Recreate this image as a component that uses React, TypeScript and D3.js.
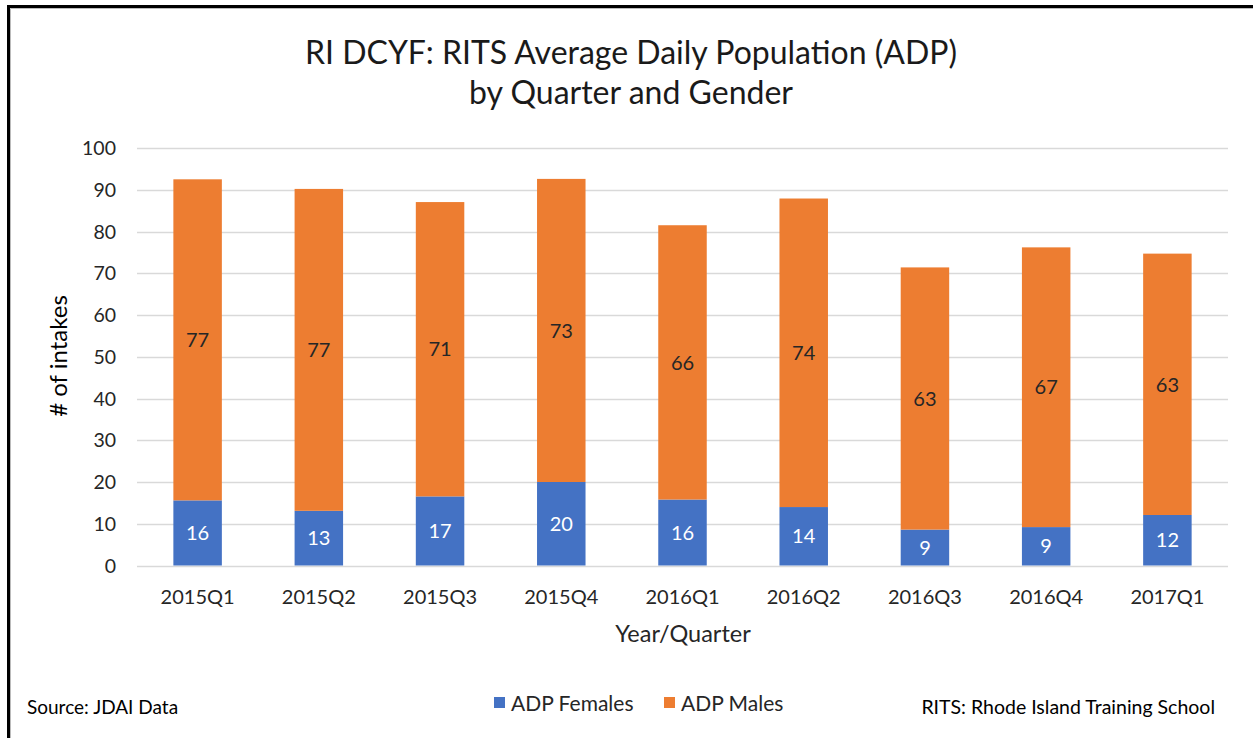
import { useRef, useEffect } from 'react'
import * as d3 from 'd3'

const quarters = ['2015Q1', '2015Q2', '2015Q3', '2015Q4', '2016Q1', '2016Q2', '2016Q3', '2016Q4', '2017Q1']
const females = [15.6, 13.1, 16.55, 20.0, 15.8, 14.0, 8.6, 9.2, 12.1]
const males = [76.9, 77.1, 70.5, 72.6, 65.7, 73.9, 62.8, 67.0, 62.6]
const yTicks = [0, 10, 20, 30, 40, 50, 60, 70, 80, 90, 100]
const seriesNames = ['ADP Females', 'ADP Males']
const seriesColors = ['#4472C4', '#ED7D31']

const FONT = 'Lato, "Open Sans", sans-serif'

const App: React.FC = () => {
  const chartRef = useRef<SVGSVGElement>(null)

  useEffect(() => {
    if (!chartRef.current) return

    const width = 1253
    const height = 738
    const left = 137
    const right = 1228
    const top = 148
    const bottom = 565.5

    const svg = d3.select(chartRef.current)
    svg.selectAll('*').remove()
    svg.attr('width', width).attr('height', height)

    svg.append('rect').attr('width', width).attr('height', height).attr('fill', '#fff')

    // frame (only top and left edges show in the crop)
    svg.append('path')
      .attr('d', `M8.5,738 L8.5,6.5 L1253,6.5`)
      .attr('fill', 'none')
      .attr('stroke', '#000')
      .attr('stroke-width', 3)
    svg.append('path')
      .attr('d', `M10.5,738 L10.5,8.5 L1253,8.5`)
      .attr('fill', 'none')
      .attr('stroke', '#bbb')
      .attr('stroke-width', 1)

    const x = d3.scaleBand<string>().domain(quarters).range([left, right]).padding(0)
    const y = d3.scaleLinear().domain([0, 100]).range([bottom, top])
    const barW = x.bandwidth() * 0.4

    // gridlines
    svg.append('g')
      .selectAll('line')
      .data(yTicks)
      .enter()
      .append('line')
      .attr('x1', left)
      .attr('x2', right)
      .attr('y1', (d) => Math.round(y(d)) + 0.5)
      .attr('y2', (d) => Math.round(y(d)) + 0.5)
      .attr('stroke', '#d9d9d9')
      .attr('stroke-width', 1.5)

    // y tick labels
    svg.append('g')
      .selectAll('text')
      .data(yTicks)
      .enter()
      .append('text')
      .attr('x', 116)
      .attr('y', (d) => y(d))
      .attr('dy', '0.36em')
      .attr('text-anchor', 'end')
      .attr('font-family', FONT)
      .attr('font-size', 19.5)
      .attr('fill', '#262626')
      .text((d) => d)

    // stacked bars
    const rows = quarters.map((q, i) => ({ q, f: females[i], m: males[i] }))
    const stack = d3.stack<{ q: string; f: number; m: number }>().keys(['f', 'm'])
    const layers = stack(rows)

    layers.forEach((layer, li) => {
      const g = svg.append('g')
      g.selectAll('rect')
        .data(layer)
        .enter()
        .append('rect')
        .attr('x', (d) => (x(d.data.q) as number) + (x.bandwidth() - barW) / 2)
        .attr('width', barW)
        .attr('y', (d) => y(d[1]))
        .attr('height', (d) => y(d[0]) - y(d[1]))
        .attr('fill', seriesColors[li])
      g.selectAll('text')
        .data(layer)
        .enter()
        .append('text')
        .attr('x', (d) => (x(d.data.q) as number) + x.bandwidth() / 2)
        .attr('y', (d) => (y(d[0]) + y(d[1])) / 2)
        .attr('dy', '0.36em')
        .attr('text-anchor', 'middle')
        .attr('font-family', FONT)
        .attr('font-size', 20)
        .attr('fill', li === 0 ? '#fff' : '#262626')
        .text((d) => Math.round(d[1] - d[0]))
    })

    // x labels
    svg.append('g')
      .selectAll('text')
      .data(quarters)
      .enter()
      .append('text')
      .attr('x', (d) => (x(d) as number) + x.bandwidth() / 2)
      .attr('y', 597)
      .attr('dy', '0.36em')
      .attr('text-anchor', 'middle')
      .attr('font-family', FONT)
      .attr('font-size', 20)
      .attr('fill', '#262626')
      .text((d) => d)

    // axis titles
    svg.append('text')
      .attr('x', 683)
      .attr('y', 634)
      .attr('dy', '0.36em')
      .attr('text-anchor', 'middle')
      .attr('font-family', FONT)
      .attr('font-size', 23.5)
      .attr('fill', '#262626')
      .text('Year/Quarter')
    svg.append('text')
      .attr('transform', `translate(58,356) rotate(-90)`)
      .attr('dy', '0.36em')
      .attr('text-anchor', 'middle')
      .attr('font-family', FONT)
      .attr('font-size', 24)
      .attr('fill', '#000')
      .text('# of intakes')

    // title
    const title = svg.append('text')
      .attr('text-anchor', 'middle')
      .attr('font-family', FONT)
      .attr('font-size', 32)
      .attr('fill', '#1a1a1a')
    title.append('tspan').attr('x', 631).attr('y', 64).text('RI DCYF: RITS Average Daily Population (ADP)')
    title.append('tspan').attr('x', 631).attr('y', 104).text('by Quarter and Gender')

    // legend
    const legendItems = [
      { name: seriesNames[0], color: seriesColors[0], x: 494 },
      { name: seriesNames[1], color: seriesColors[1], x: 664 },
    ]
    const lg = svg.append('g')
    legendItems.forEach((it) => {
      lg.append('rect').attr('x', it.x).attr('y', 697).attr('width', 11).attr('height', 11).attr('fill', it.color)
      lg.append('text')
        .attr('x', it.x + 17)
        .attr('y', 703)
        .attr('dy', '0.36em')
        .attr('font-family', FONT)
        .attr('font-size', 21)
        .attr('fill', '#262626')
        .text(it.name)
    })

    svg.append('text')
      .attr('x', 27)
      .attr('y', 707)
      .attr('dy', '0.36em')
      .attr('font-family', FONT)
      .attr('font-size', 19)
      .attr('fill', '#000')
      .text('Source: JDAI Data')
    svg.append('text')
      .attr('x', 1215)
      .attr('y', 707)
      .attr('dy', '0.36em')
      .attr('text-anchor', 'end')
      .attr('font-family', FONT)
      .attr('font-size', 19.5)
      .attr('fill', '#000')
      .text('RITS: Rhode Island Training School')
  }, [])

  return (
    <div style={{ position: 'absolute', left: 0, top: 0 }}>
      <svg ref={chartRef} style={{ display: 'block' }} />
    </div>
  )
}

export default App
